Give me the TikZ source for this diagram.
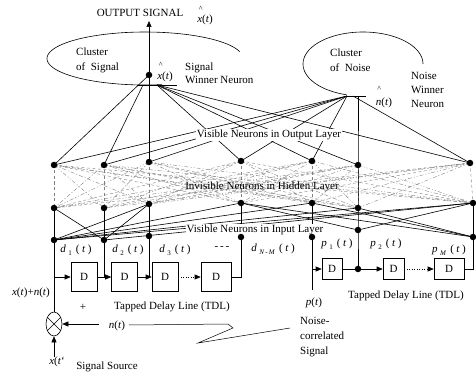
\documentclass[tikz,border=0pt]{standalone}
\usepackage{fontspec}
\setmainfont{Liberation Serif}
\usetikzlibrary{arrows.meta,shapes.geometric}
\pgfdeclarelayer{lines}
\pgfdeclarelayer{labels}
\pgfsetlayers{lines,labels,main}
\newcommand{\tapl}[2]{\textit{#1}\hspace{2.5pt}\raisebox{-0.5ex}{\fontsize{7}{8}\selectfont #2}\hspace{4pt}(\hspace{2.5pt}\textit{t}\hspace{2.5pt})}
\newcommand{\hatv}[2]{\makebox[0pt][l]{\raisebox{#2}{\hspace{1.5pt}\fontsize{8}{8}\selectfont\textasciicircum}}\textit{#1}(\textit{t})}
\begin{document}
\begin{tikzpicture}[x=1pt,y=-1pt,
  every node/.style={font=\fontsize{11}{14}\selectfont},
  neuron/.style={circle,fill=black,inner sep=0pt,minimum size=6.5pt},
  conn/.style={line width=0.6pt},
  thinl/.style={line width=0.5pt},
  hid/.style={black!50,line width=0.4pt},
  hs0/.style={dash pattern=on 3pt off 2.5pt},
  hs1/.style={dash pattern=on 4pt off 2pt on 1pt off 2pt},
  hs2/.style={dash pattern=on 4pt off 2pt on 1pt off 2pt on 1pt off 2pt},
  dbox/.style={draw,line width=0.6pt,fill=white,minimum width=26pt,minimum height=29pt,inner sep=0pt},
  pbox/.style={dbox,minimum width=20pt,minimum height=21pt},
  arr/.style={-{Triangle[length=6pt,width=5pt]}},
  dotl/.style={dash pattern=on 1pt off 1.5pt},
  txt/.style={inner sep=0pt},
  layerlbl/.style={inner sep=1pt,fill=white},
]
\useasboundingbox (0,0) rectangle (476,374);

% ---------- neurons ----------
\foreach \n/\x/\y in {O1/54/165, O2/104/165, O3/149/162, O4/241/161, O5/312/161, O6/358/165, O7/470/163,
                      H1/54/208, H2/104/208, H3/149/204, H4/241/203, H5/312/203, H6/358/208, H7/473/203,
                      I1/54/240, I2/104/240, I3/149/236, I4/241/237, I5/312/237, I6/358/230, I7/473/237}
  \node[neuron] (\n) at (\x,\y) {};
\node[neuron] (xhat) at (149,75) {};
\node[neuron] (tdot) at (358,269) {};

% ---------- winner points ----------
\coordinate (outtip) at (149,21);
\coordinate (sB) at (143,85);
\coordinate (sR) at (157,85);
\coordinate (nL) at (347,96);
\coordinate (nR) at (353,96);
\coordinate (nV) at (358,96);

% ---------- clusters ----------
\draw[conn] plot[domain=-15:-280,samples=80] ({145+98*cos(\x)},{58.5+26.5*sin(\x)});
\coordinate (sl0) at (137,85); \coordinate (sl1) at (177,85);
\draw[conn] (sl0) -- (sl1);
\draw[conn] plot[domain=0:-254,samples=80] ({363+60*cos(\x)},{64+32*sin(\x)});
\coordinate (nl0) at (344,96); \coordinate (nl1) at (366,96);
\draw[conn] (nl0) -- (nl1);

% ---------- TDL left ----------
\node[dbox] (D1) at (84,277) {D};
\node[dbox] (D2) at (124.5,277) {D};
\node[dbox] (D3) at (165,277) {D};
\node[dbox,minimum width=30pt] (D4) at (216,277) {D};
\node[draw,ellipse,line width=0.6pt,minimum width=16pt,minimum height=24pt,inner sep=0pt] (mix) at (54,324) {};

% ---------- TDL right ----------
\node[pbox] (P1) at (332,269) {D};
\node[pbox,minimum width=21pt] (P2) at (393.5,269) {D};
\node[pbox,minimum width=30pt] (PM) at (449,269) {D};

% ---------- connections (background) ----------
\begin{pgfonlayer}{lines}
  \foreach \i in {1,...,7}
    \foreach \j in {1,...,7} {
      \pgfmathtruncatemacro\k{mod(\i+2*\j,3)}
      \draw[hid,hs\k] (O\i.center) -- (H\j.center);
    }
  \foreach \a/\b in {H1/I1,H2/I2,H3/I3,H4/I4,H5/I5,H7/I7,
                     H1/I2,I1/H3,I2/H3,I1/H4,I1/H5,I1/H6,I1/H7,I2/H7,
                     H4/I6,H4/I7,H5/I7,H6/I7,I6/H7}
    \draw[conn] (\a.center) -- (\b.center);
  % signal winner
  \draw[conn] (xhat.center) -- (O1.center);
  \draw[conn] (sB) -- (O2.center);
  \draw[conn] (xhat.center) -- (O3.center);
  \foreach \k in {4,5,6,7} \draw[conn] (sR) -- (O\k.center);
  % noise winner
  \foreach \k in {1,...,5} \draw[conn] (nL) -- (O\k.center);
  \draw[conn] (nR) -- (O7.center);
  \draw[conn] (nV) -- (O6.center) -- (H6.center) -- (I6.center) -- (tdot.center);
\end{pgfonlayer}

\begin{pgfonlayer}{labels}
  \node[layerlbl] (lo) at (269,135) {Visible Neurons in Output Layer};
  \node[txt] (lh) at (262,187) {Invisible Neurons in Hidden Layer};
  \node[layerlbl] (li) at (255,230) {Visible Neurons in Input Layer};
\end{pgfonlayer}

% output arrow
\draw[conn,arr] (xhat.center) -- (outtip);

% left TDL wiring
\coordinate (t0) at (54,277);
\coordinate (t1) at (104,277);
\coordinate (t2) at (149,277);
\coordinate (t3) at (241,277);
\draw[conn] (I1.center) -- (mix.north);
\draw[conn,arr] (t0) -- (D1.west);
\draw[conn,arr] (D1.east) -- (D2.west);
\draw[conn] (I2.center) -- (t1);
\draw[conn,arr] (D2.east) -- (D3.west);
\draw[conn] (I3.center) -- (t2);
\draw[conn,dotl,arr] (D3.east) -- (D4.west);
\draw[conn] (D4.east) -- (t3) -- (I4.center);

% mixer
\draw[conn] (mix.45) -- (mix.225);
\draw[conn] (mix.135) -- (mix.315);
\coordinate (nsrc) at (99,324);
\coordinate (xsrc) at (54,357);
\draw[conn,arr] (nsrc) -- (mix.east);
\draw[conn,arr] (xsrc) -- (mix.south);

% zigzag noise-correlated signal
\coordinate (z0) at (129,325);
\coordinate (z1) at (228,324);
\coordinate (z2) at (233,328);
\coordinate (z3) at (198,343);
\coordinate (z4) at (290,328);
\draw[thinl] (z0) -- (z1) -- (z2) -- (z3) -- (z4);

% right TDL wiring
\coordinate (pin) at (312,290);
\coordinate (pt) at (312,269);
\coordinate (pe) at (473,269);
\draw[conn] (I5.center) -- (pin);
\draw[conn,arr] (pt) -- (P1.west);
\draw[conn] (P1.east) -- (tdot.center);
\draw[conn,arr] (tdot.center) -- (P2.west);
\draw[conn,dotl,arr] (P2.east) -- (PM.west);
\draw[conn] (PM.east) -- (pe) -- (I7.center);

% ---------- texts ----------
\node[txt] (outlbl) at (140,13) {OUTPUT SIGNAL};
\node[txt] (xhtop) at (205,16) {\hatv{x}{11pt}};
\node[txt,anchor=west,align=left,font=\fontsize{11}{15}\selectfont] (cs) at (76,60.5) {Cluster\\of\ \ Signal};
\node[txt] (xhmid) at (165,72) {\hatv{x}{12pt}};
\node[txt,anchor=west,align=left,font=\fontsize{11}{13.5}\selectfont] (swn) at (185,73.5) {Signal\\Winner Neuron};
\node[txt,anchor=west,align=left,font=\fontsize{11}{15}\selectfont] (cn) at (330,60.5) {Cluster\\of\ \ Noise};
\node[txt] (nh) at (384,97) {\hatv{n}{14pt}};
\node[txt,anchor=west,align=left] (nwn) at (411,90) {Noise\\Winner\\Neuron};

\node[txt] (ld1) at (76,250) {\tapl{d}{1}};
\node[txt] (ld2) at (128,250) {\tapl{d}{2}};
\node[txt] (ld3) at (175,250) {\tapl{d}{3}};
\node[txt] (ldd) at (222,248) {-\,-\,-};
\node[txt] (ldn) at (273,249) {\tapl{d}{\textit{N}\,-\,\textit{M}}};
\node[txt] (lp1) at (337,244) {\tapl{p}{1}};
\node[txt] (lp2) at (386,244) {\tapl{p}{2}};
\node[txt] (lpm) at (449,250) {\tapl{p}{\textit{M}}};

\node[txt] (xn) at (31,293) {\textit{x}(\textit{t})+\textit{n}(\textit{t})};
\node[txt] (plus) at (83,307) {+};
\node[txt] (tdl1) at (172,307) {Tapped Delay Line (TDL)};
\node[txt] (tdl2) at (406,296) {Tapped Delay Line (TDL)};
\node[txt] (nt) at (117,326) {\textit{n}(\textit{t})};
\node[txt] (pp) at (314,303) {\textit{p}(\textit{t})};
\node[txt,anchor=west,align=left,font=\fontsize{11}{15}\selectfont] (ncs) at (300,337) {Noise-\\correlated\\Signal};
\node[txt] (xs) at (57,362) {\textit{x}(\textit{t}`};
\node[txt] (ssrc) at (107,367) {Signal Source};
\end{tikzpicture}
\end{document}
